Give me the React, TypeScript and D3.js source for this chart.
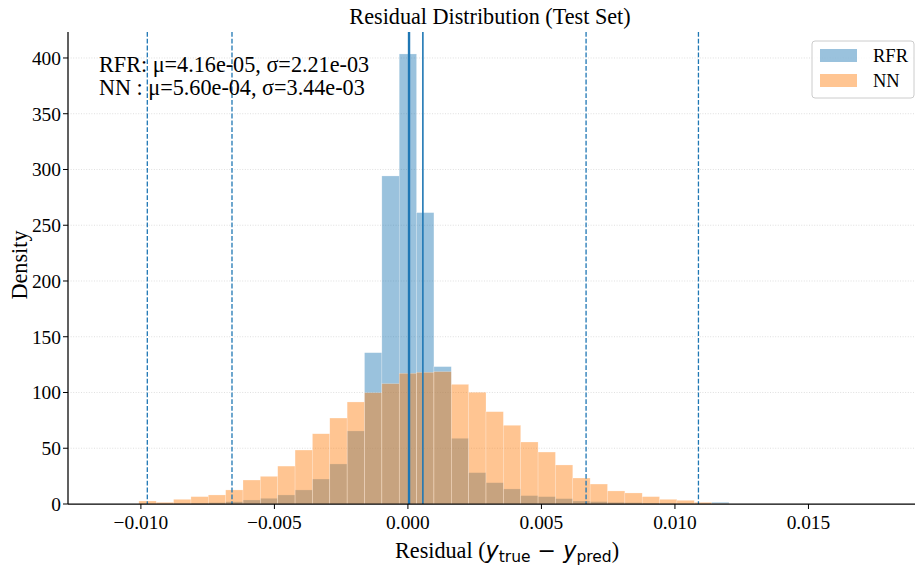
import React from "react";
import * as d3 from "d3";

// ---- data ----
const BIN_START = -0.000326; // left edge of bin index 0
const BIN_WIDTH = 0.00065;
const FIRST_BIN = -15;

const rfrDensity = [
  0.2, 0.3, 0.5, 0.8, 1.2, 2.0, 3.6, 5.1, 8.1, 12.6, 22.4, 35.9, 65.5, 135.7, 294.2,
  403.6, 261.3, 123.2, 58.9, 28.1, 19.1, 13.5, 7.5, 6.6, 4.8, 2.7, 2.1, 1.5, 1.2, 0.9, 0.6, 0.4, 0.3, 1.5,
];
const nnDensity = [
  2.7, 1.5, 4.2, 6.6, 8.1, 12.6, 21.5, 24.8, 34, 48.4, 63, 77.1, 91.5, 99.8, 107.9,
  117.2, 118.1, 118.7, 107.3, 100.2, 82.8, 70.6, 55.6, 46.6, 35, 23.3, 17.9, 11.7, 9.9, 6.6, 4.2, 3.3, 1.5, 0.3,
];

const rfrMean = 4.16e-5;
const rfrStd = 2.21e-3;
const nnMean = 5.6e-4;
const nnStd = 3.44e-3;

const xTicks = [-0.01, -0.005, 0, 0.005, 0.01, 0.015];
const yTicks = [0, 50, 100, 150, 200, 250, 300, 350, 400];
const xDomain = [-0.01273, 0.01899];
const yDomain = [0, 423.3];

const seriesNames = ["RFR", "NN"];
const title = "Residual Distribution (Test Set)";
const statLines = [
  "RFR: μ=4.16e-05, σ=2.21e-03",
  "NN : μ=5.60e-04, σ=3.44e-03",
];

const C0 = "#1f77b4";
const C1 = "#ff7f0e";
const ALPHA = 0.45;
const SERIF = "'Liberation Serif', 'Times New Roman', serif";
const MATH = "'DejaVu Sans', sans-serif";

export default function App() {
  const W = 915;
  const H = 571;
  const left = 68;
  const right = 915;
  const top = 32;
  const bottom = 504;

  const x = d3.scaleLinear().domain(xDomain).range([left, right]);
  const y = d3.scaleLinear().domain(yDomain).range([bottom, top]);

  const fmtX = (v: number) => {
    const s = d3.format(".3f")(Math.abs(v));
    return v < 0 ? "\u2212" + s : s;
  };

  const bars = (vals: number[], color: string) =>
    vals.map((v, i) => {
      const k = FIRST_BIN + i;
      const x0 = x(BIN_START + k * BIN_WIDTH);
      const x1 = x(BIN_START + (k + 1) * BIN_WIDTH);
      return (
        <rect
          key={i}
          x={x0}
          y={y(v)}
          width={x1 - x0}
          height={y(0) - y(v)}
          fill={color}
          fillOpacity={ALPHA}
          stroke="white"
          strokeOpacity={ALPHA}
          strokeWidth={0.5}
        />
      );
    });

  const solidLines = [
    { v: rfrMean, w: 2.4 },
    { v: nnMean, w: 1.6 },
  ];
  const dashedLines = [
    rfrMean - 3 * rfrStd,
    rfrMean + 3 * rfrStd,
    nnMean - 3 * nnStd,
    nnMean + 3 * nnStd,
  ];

  return (
    <svg width={W} height={H} style={{ position: "absolute", left: 0, top: 0, background: "white" }}>
      <rect x={0} y={0} width={W} height={H} fill="white" />
      {/* grid */}
      {yTicks.slice(1).map((t) => (
        <line
          key={t}
          x1={left}
          x2={right}
          y1={y(t)}
          y2={y(t)}
          stroke="#b0b0b0"
          strokeOpacity={0.5}
          strokeWidth={0.8}
          strokeDasharray="1,1.6"
        />
      ))}
      {/* histograms */}
      <g>{bars(rfrDensity, C0)}</g>
      <g>{bars(nnDensity, C1)}</g>
      {/* mean lines */}
      {solidLines.map((l, i) => (
        <line key={i} x1={x(l.v)} x2={x(l.v)} y1={top} y2={bottom} stroke={C0} strokeWidth={l.w} />
      ))}
      {dashedLines.map((v, i) => (
        <line
          key={i}
          x1={x(v)}
          x2={x(v)}
          y1={top}
          y2={bottom}
          stroke={C0}
          strokeWidth={1.3}
          strokeDasharray="4.8,2"
        />
      ))}
      {/* axes */}
      <line x1={left} x2={left} y1={top} y2={bottom} stroke="black" strokeWidth={1.25} />
      <line x1={left} x2={right} y1={bottom} y2={bottom} stroke="black" strokeWidth={1.25} />
      {yTicks.map((t) => (
        <g key={t}>
          <line x1={left - 5} x2={left} y1={y(t)} y2={y(t)} stroke="black" strokeWidth={1} />
          <text
            x={left - 7}
            y={y(t)}
            dy="0.35em"
            textAnchor="end"
            fontFamily={SERIF}
            fontSize={19.4}
            fill="black"
          >
            {t}
          </text>
        </g>
      ))}
      {xTicks.map((t) => (
        <g key={t}>
          <line x1={x(t)} x2={x(t)} y1={bottom} y2={bottom + 5} stroke="black" strokeWidth={1} />
          <text
            x={x(t)}
            y={bottom + 25}
            textAnchor="middle"
            fontFamily={SERIF}
            fontSize={19.4}
            fill="black"
          >
            {fmtX(t)}
          </text>
        </g>
      ))}
      {/* title */}
      <text x={490} y={24} textAnchor="middle" fontFamily={SERIF} fontSize={22.2} fill="black">
        {title}
      </text>
      {/* axis labels */}
      <text
        transform={`translate(${27},${265}) rotate(-90)`}
        textAnchor="middle"
        fontFamily={SERIF}
        fontSize={22.2}
        fill="black"
      >
        Density
      </text>
      <text x={507} y={558} textAnchor="middle" fontFamily={SERIF} fontSize={22.2} fill="black">
        <tspan>Residual (</tspan>
        <tspan fontFamily={MATH} fontStyle="italic">y</tspan>
        <tspan fontFamily={MATH} fontSize={15.5} dy={4}>true</tspan>
        <tspan fontFamily={MATH} dy={-4}> − </tspan>
        <tspan fontFamily={MATH} fontStyle="italic">y</tspan>
        <tspan fontFamily={MATH} fontSize={15.5} dy={4}>pred</tspan>
        <tspan dy={-4}>)</tspan>
      </text>
      {/* stats text */}
      {statLines.map((s, i) => (
        <text key={i} x={99} y={72 + i * 22.6} fontFamily={SERIF} fontSize={22.2} fill="black">
          {s}
        </text>
      ))}
      {/* legend */}
      <g>
        <rect x={812} y={41} width={102} height={57} rx={3} fill="white" fillOpacity={0.8} stroke="#cccccc" strokeWidth={1} />
        {seriesNames.map((n, i) => (
          <g key={n}>
            <rect
              x={820}
              y={49 + i * 25}
              width={37}
              height={13}
              fill={i === 0 ? C0 : C1}
              fillOpacity={ALPHA}
            />
            <text x={873} y={61.5 + i * 25} fontFamily={SERIF} fontSize={18.5} fill="black">
              {n}
            </text>
          </g>
        ))}
      </g>
    </svg>
  );
}
